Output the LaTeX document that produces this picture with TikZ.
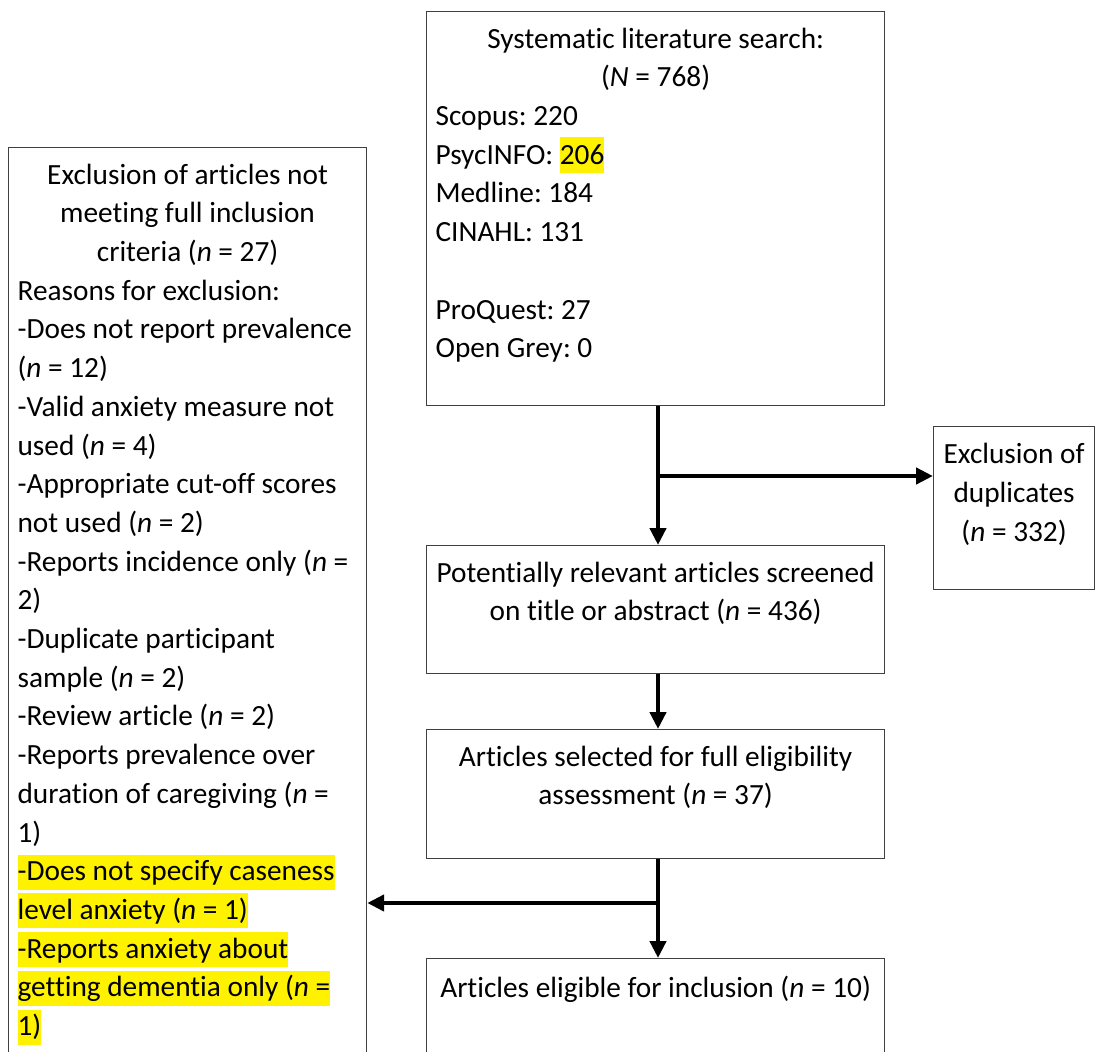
\documentclass[tikz,border=0pt]{standalone}
\usepackage{fontspec}
\setmainfont{Carlito}[Ligatures={NoCommon,TeX}]
\usepackage{xcolor}
\usepackage{tikz}
\usetikzlibrary{arrows.meta}
\setlength{\parskip}{0pt}
\frenchspacing
\newcommand{\hlline}[1]{{\setlength{\fboxsep}{0pt}\colorbox{yellow}{\rule[-9pt]{0pt}{35pt}#1}}}

\begin{document}
\begin{tikzpicture}[x=1pt,y=1pt,yscale=-1,xscale=1,
  box/.style={draw=black!75, line width=1.2pt, anchor=north west, inner xsep=9pt, inner ysep=0pt,
    font={\fontsize{29.3pt}{38.7pt}\selectfont}},
  flow/.style={line width=4.3pt, -{Triangle[length=17pt,width=16pt]}}]
\useasboundingbox (0,0) rectangle (1095,1052);
\clip (0,0) rectangle (1095,1052);

%Shape: Rectangle [search]
\node [box] (search) at (426,11) {\parbox[t][394pt][t]{440pt}{%
{\centering\rule{0pt}{36.5pt}Systematic literature search:\\
(\textit{N} = 768)\par}
\raggedright
Scopus: 220\\
PsycINFO: {\setlength{\fboxsep}{0pt}\colorbox{yellow}{\rule[-8.5pt]{0pt}{36pt}206}}\\
Medline: 184\\
CINAHL: 131\\
\strut\\
ProQuest: 27\\
Open Grey: 0}};

%Shape: Rectangle [excluded full text]
\node [box] (fullout) at (8,147) {\parbox[t][930pt][t]{340pt}{%
{\centering\rule{0pt}{36.5pt}Exclusion of articles not\\
meeting full inclusion\\
criteria (\textit{n} = 27)\par}
\raggedright
Reasons for exclusion:\\
-Does not report prevalence\\
(\textit{n} = 12)\\
-Valid anxiety measure not\\
used (\textit{n} = 4)\\
-Appropriate cut-off scores\\
not used (\textit{n} = 2)\\
-Reports incidence only (\textit{n} =\\
2)\\
-Duplicate participant\\
sample (\textit{n} = 2)\\
-Review article (\textit{n} = 2)\\
-Reports prevalence over\\
duration of caregiving (\textit{n} =\\
1)\\
\hlline{-Does not specify caseness}\\
\hlline{level anxiety (\textit{n} = 1)}\\
\hlline{-Reports anxiety about}\\
\hlline{getting dementia only (\textit{n} =}\\
\hlline{1)}}};

%Shape: Rectangle [duplicates]
\node [box, inner xsep=4pt] (dup) at (933,426) {\parbox[t][163pt][t]{153pt}{%
\centering\rule{0pt}{37pt}Exclusion of\\
duplicates\\
(\textit{n} = 332)}};

%Shape: Rectangle [screened]
\node [box] (screen) at (426,545) {\parbox[t][128pt][t]{440pt}{%
\centering\rule{0pt}{36.5pt}Potentially relevant articles screened\\
on title or abstract (\textit{n} = 436)}};

%Shape: Rectangle [full text]
\node [box] (full) at (426,729) {\parbox[t][129pt][t]{440pt}{%
\centering\rule{0pt}{36.5pt}Articles selected for full eligibility\\
assessment (\textit{n} = 37)}};

%Shape: Rectangle [included]
\node [box] (incl) at (426,958) {\parbox[t][120pt][t]{440pt}{%
\centering\rule{0pt}{38.5pt}Articles eligible for inclusion (\textit{n} = 10)}};

% Branch points
\coordinate (split1) at (658,476);
\coordinate (split2) at (658,903);

%Straight Lines
\draw [flow] (search.south -| split1) -- (screen.north -| split1);
\draw [flow] (split1) -- (dup.west |- split1);
\draw [flow] (screen.south -| split1) -- (full.north -| split1);
\draw [flow] (full.south -| split2) -- (incl.north -| split2);
\draw [flow] (split2) -- (fullout.east |- split2);

\end{tikzpicture}
\end{document}
